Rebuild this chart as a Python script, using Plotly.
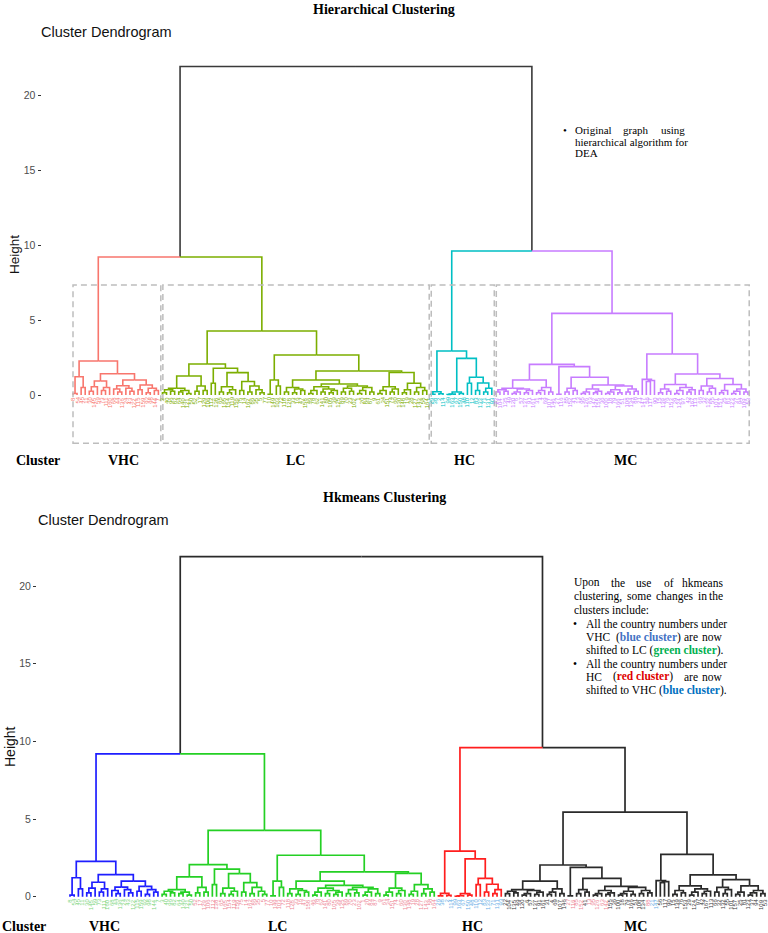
import plotly.graph_objects as go

W, H = 768, 933
SERIF = "Liberation Serif"
SANS = "Liberation Sans"

# ---------------- data: cluster sub-trees (Newick-like, x = leaf, :h = merge height)
vhc_L = "((x,x):0.1,(x,x):0.5):1.22"
vhc_R1 = "(((x,x):0.25,x):0.55,((x,x):0.3,x):0.5):0.93"
vhc_R2 = "(((x,(x,x):0.2):0.4,(x,(x,x):0.25):0.45):0.62,((x,x):0.35,((x,x):0.15,(x,x):0.3):0.45):0.67):1.0"
vhc_tree = f"({vhc_L},({vhc_R1},{vhc_R2}):1.42):2.27"

lc_a = "(((x,x):0.15,(x,x):0.25):0.35,((x,x):0.2,(x,x):0.1):0.3):0.45"
lc_b = "((x,x):0.25,(x,x):0.3):0.6"
lc_c = "(x,x):0.78"
lc_d1 = "((x,x):0.2,((x,x):0.15,x):0.35):0.55"
lc_d2 = "((x,x):0.3,((x,x):0.2,(x,(x,x):0.15):0.35):0.6):0.9"
lc_L = f"(({lc_a},{lc_b}):1.27,({lc_c},({lc_d1},{lc_d2}):1.49):1.78):2.07"
lc_e = "((x,x):0.05,(x,x):0.6):1.0"
lc_A1 = "((x,x):0.2,((x,x):0.15,(x,x):0.3):0.4):0.5"
lc_A2a = "(((x,x):0.1,x):0.3,((x,x):0.2,((x,x):0.15,x):0.3):0.4):0.55"
lc_A2b = "(((x,x):0.2,(x,x):0.25):0.45,(((x,x):0.1,x):0.3,(x,x):0.2):0.5):0.6"
lc_B1 = "(((x,x):0.1,x):0.3,((x,x):0.2,x):0.4):0.55"
lc_B2 = "(((x,x):0.15,x):0.35,((x,x):0.2,(x,x):0.3):0.5):0.78"
lc_R = f"({lc_e},(({lc_A1},({lc_A2a},{lc_A2b}):0.73):1.0,({lc_B1},{lc_B2}):1.5):1.6):2.67"
lc_tree = f"({lc_L},{lc_R}):4.27"

hc_X = "((x,x):0.05,(x,x):0.08):0.22"
hc_Y1 = "(((x,x):0.03,x):0.06,(x,x):0.1):0.2"
hc_Y2 = "((x,x):0.78,((x,x):0.3,((x,x):0.2,x):0.45):0.8):1.18"
hc_tree = f"({hc_X},({hc_Y1},{hc_Y2}):2.44):2.93"

mc_M1a1 = "(((x,x):0.2,(x,x):0.25):0.35,(((x,x):0.1,x):0.2,((x,x):0.15,x):0.3):0.4):0.45"
mc_M1a2 = "(((x,x):0.15,x):0.3,(x,x):0.2):0.5"
mc_M1b1 = "(x,x):0.05"
mc_M1b2a = "((x,x):0.2,(x,x):0.3):0.45"
mc_M1b2b1 = "(((x,x):0.1,x):0.2,((x,x):0.15,x):0.25):0.4"
mc_M1b2b2 = "((((x,x):0.1,x):0.2,(x,x):0.15):0.35,((x,x):0.2,(x,x):0.25):0.4):0.6"
mc_M1 = f"(({mc_M1a1},{mc_M1a2}):1.0,({mc_M1b1},({mc_M1b2a},({mc_M1b2b1},{mc_M1b2b2}):0.67):1.18):1.89):2.04"
mc_M2a = "(x,((x,x):0.9,x):0.97):1.04"
mc_M2b1 = "(((x,x):0.15,(x,x):0.25):0.4,(((x,x):0.1,x):0.3,((x,x):0.2,x):0.35):0.5):0.7"
mc_M2b2a = "((x,x):0.3,((x,x):0.2,x):0.45):0.6"
mc_M2b2b = "(((x,x):0.15,x):0.3,(((x,x):0.1,x):0.25,(x,x):0.2):0.4):0.7"
mc_M2 = f"({mc_M2a},({mc_M2b1},({mc_M2b2a},{mc_M2b2b}):1.1):1.4):2.73"
mc_tree = f"({mc_M1},{mc_M2}):5.44"

cluster_trees = [vhc_tree, lc_tree, hc_tree, mc_tree]
cluster_names = ["VHC", "LC", "HC", "MC"]
join_left_height = 9.2     # VHC + LC
join_right_height = 9.6    # HC + MC
root_height = 21.9

vhc_labels = [8, 54, 45, 11, 30, 145, 59, 73, 111, 160, 68, 44, 136, 24, 43, 122, 115, 159, 92, 98, 144, 7]
lc_labels = [3, 40, 96, 82, 64, 140, 121, 50, 52, 17, 129, 106, 112, 138, 65, 165, 154, 119, 156, 75,
             14, 162, 86, 35, 5, 77, 10, 149, 103, 72, 118, 128, 33, 16, 47, 158, 46, 78, 62, 141,
             80, 105, 39, 125, 89, 70, 23, 102, 1, 20, 84, 87, 9, 61, 34, 151, 74, 60, 130, 148,
             19, 28, 127, 143, 58, 164]
hc_labels = [26, 38, 2, 114, 99, 163, 67, 150, 48, 110, 12, 83, 133, 71, 131, 93]
mc_labels = [22, 104, 135, 49, 120, 6, 57, 137, 91, 161, 31, 4, 69, 107, 146, 27, 116, 85, 152, 41,
             13, 95, 126, 63, 142, 155, 36, 100, 18, 79, 166, 51, 108, 134, 88, 21, 147, 56, 117, 90,
             15, 139, 76, 153, 29, 124, 97, 42, 167, 113, 66, 32, 132, 55, 101, 157, 25, 81, 123, 37,
             94, 109, 53]
leaf_labels = vhc_labels + lc_labels + hc_labels + mc_labels

top_colors = ["#F8766D", "#7CAE00", "#00BFC4", "#C77CFF"]
top_root_color = "#3A3A3A"
bottom_colors = ["#1E1EFF", "#24D024", "#FF1E1E", "#2A2A2A"]
bottom_root_color = "#2A2A2A"

bottom_label_runs = [("LC", 30), ("VHC", 58), ("HC", 16), ("MC", 15), ("VHC", 4), ("MC", 1),
                     ("VHC", 5), ("MC", 9), ("VHC", 1), ("HC", 2), ("MC", 26)]
bottom_label_palette = {"LC": "#7ED67E", "VHC": "#EE8796", "HC": "#66AEE6", "MC": "#3A3A3A"}

tick_vals = [0, 5, 10, 15, 20]


# ---------------- tree building
def parse(s):
    pos = [0]

    def node():
        if s[pos[0]] == 'x':
            pos[0] += 1
            return {}
        pos[0] += 1  # (
        left = node()
        pos[0] += 1  # ,
        right = node()
        pos[0] += 2  # ):
        j = pos[0]
        while pos[0] < len(s) and (s[pos[0]].isdigit() or s[pos[0]] == '.'):
            pos[0] += 1
        return {'h': float(s[j:pos[0]]), 'kids': [left, right]}
    return node()


def tag(n, c):
    n['c'] = c
    for k in n.get('kids', []):
        tag(k, c)


subtrees = []
for i, t in enumerate(cluster_trees):
    tr = parse(t)
    tag(tr, i)
    subtrees.append(tr)

root = {'h': root_height, 'c': None, 'kids': [
    {'h': join_left_height, 'c': None, 'kids': [subtrees[0], subtrees[1]]},
    {'h': join_right_height, 'c': None, 'kids': [subtrees[2], subtrees[3]]}]}

leaves = []


def place(n):
    if 'kids' not in n:
        n['x'] = len(leaves)
        n['h'] = 0.0
        leaves.append(n)
        return
    for k in n['kids']:
        place(k)
    n['x'] = sum(k['x'] for k in n['kids']) / 2.0


place(root)
NLEAF = len(leaves)

segs = []


def collect(n):
    for k in n.get('kids', []):
        segs.append((k['c'], [k['x'], k['x'], n['x']], [k['h'], n['h'], n['h']]))
        collect(k)


collect(root)

fig = go.Figure()


def add_tree(colors, rootc, xa, ya, width):
    groups = {}
    for c, xs, ys in segs:
        col = rootc if c is None else colors[c]
        g = groups.setdefault(col, ([], []))
        g[0].extend(xs + [None])
        g[1].extend(ys + [None])
    for col, (xs, ys) in groups.items():
        fig.add_trace(go.Scatter(x=xs, y=ys, mode="lines", xaxis=xa, yaxis=ya,
                                 line=dict(color=col, width=width), hoverinfo="skip",
                                 showlegend=False))


add_tree(top_colors, top_root_color, "x", "y", 1.6)
add_tree(bottom_colors, bottom_root_color, "x2", "y2", 1.7)

annotations = []
shapes = []

# leaf labels
bottom_label_colors = []
for name, n in bottom_label_runs:
    bottom_label_colors += [bottom_label_palette[name]] * n

for i, lf in enumerate(leaves):
    lab = str(leaf_labels[i]) if i < len(leaf_labels) else ""
    annotations.append(dict(xref="x", yref="y", x=lf['x'], y=0, yshift=-1, text=lab,
                            textangle=-90, showarrow=False, xanchor="center", yanchor="top",
                            font=dict(family=SANS, size=6, color=top_colors[lf['c']]),
                            borderpad=0))
    annotations.append(dict(xref="x2", yref="y2", x=lf['x'], y=0, yshift=-1, text=lab,
                            textangle=-90, showarrow=False, xanchor="center", yanchor="top",
                            font=dict(family=SANS, size=6, color=bottom_label_colors[i]),
                            borderpad=0))

# dashed cluster rectangles (top)
start = 0
for ci, tr in enumerate(subtrees):
    cnt = sum(1 for lf in leaves if lf['c'] == ci)
    a, b = start, start + cnt - 1
    x0 = a + (0.1 if ci > 0 else 0.0)
    x1 = b + (0.6 if ci < len(subtrees) - 1 else 0.3)
    shapes.append(dict(type="rect", xref="x", yref="y", x0=x0, x1=x1, y0=-3.22, y1=7.33,
                       line=dict(color="#BDBDBD", width=1.5, dash="6px,4px"),
                       fillcolor="rgba(0,0,0,0)", layer="above"))
    start += cnt


def pann(px, py, text, size, color="#000000", family=SERIF, xanchor="left", angle=0):
    annotations.append(dict(xref="paper", yref="paper", x=px / W, y=1 - py / H, text=text,
                            showarrow=False, xanchor=xanchor, yanchor="middle", textangle=angle,
                            font=dict(family=family, size=size, color=color), borderpad=0))


# titles
pann(384, 10, "<b>Hierarchical Clustering</b>", 14, xanchor="center")
pann(384, 497, "<b>Hkmeans Clustering</b>", 14, xanchor="center")
pann(40, 32, "Cluster Dendrogram", 14.5, "#111111", SANS)
pann(37, 520, "Cluster Dendrogram", 14.5, "#111111", SANS)
pann(15, 255, "Height", 13.5, "#111111", SANS, "center", -90)
pann(10, 747, "Height", 14, "#111111", SANS, "center", -90)

# cluster row labels
top_cluster_x = [123.8, 295, 464, 625]
bot_cluster_x = [104, 277.7, 472.5, 635]
pann(37.7, 460, "<b>Cluster</b>", 14, xanchor="center")
pann(24, 926, "<b>Cluster</b>", 14, xanchor="center")
for nm, tx, bx in zip(cluster_names, top_cluster_x, bot_cluster_x):
    pann(tx, 460, f"<b>{nm}</b>", 14, xanchor="center")
    pann(bx, 926, f"<b>{nm}</b>", 14, xanchor="center")

# top-right note
fs1 = 11
pann(565, 130, "•", fs1, xanchor="center")
pann(574.3, 130, "Original", fs1)
pann(621.7, 130, "graph", fs1)
pann(685.7, 130, "using", fs1, xanchor="right")
pann(574.3, 141.7, "hierarchical algorithm for", fs1)
pann(574.3, 153.3, "DEA", fs1)

# bottom-right note
fs2 = 11.5
c_blue1, c_green, c_red, c_blue2 = "#4472C4", "#00B050", "#E00000", "#0070C0"
pann(573.3, 582.7, "Upon", fs2)
pann(610, 582.7, "the", fs2)
pann(635, 582.7, "use", fs2)
pann(663.3, 582.7, "of", fs2)
pann(724, 582.7, "hkmeans", fs2, xanchor="right")
pann(573.3, 596, "clustering,", fs2)
pann(626, 596, "some", fs2)
pann(655, 596, "changes", fs2)
pann(696.7, 596, "in", fs2)
pann(724, 596, "the", fs2, xanchor="right")
pann(573.3, 610, "clusters include:", fs2)
pann(575, 624.3, "•", fs2, xanchor="center")
pann(585, 624.3, "All the country numbers under", fs2)
pann(585, 637.3, "VHC", fs2)
pann(615, 637.3, f"(<span style='color:{c_blue1}'><b>blue cluster</b></span>)", fs2)
pann(683.3, 637.3, "are", fs2)
pann(724, 637.3, "now", fs2, xanchor="right")
pann(585, 650, f"shifted to LC (<span style='color:{c_green}'><b>green cluster</b></span>).", fs2)
pann(575, 664, "•", fs2, xanchor="center")
pann(585, 664, "All the country numbers under", fs2)
pann(585, 676.7, "HC", fs2)
pann(611.7, 676.7, f"(<span style='color:{c_red}'><b>red cluster</b></span>)", fs2)
pann(682.7, 676.7, "are", fs2)
pann(724, 676.7, "now", fs2, xanchor="right")
pann(585, 690, f"shifted to VHC (<span style='color:{c_blue2}'><b>blue cluster</b></span>).", fs2)

# ---------------- axes (pixel-calibrated)
xr = [-0.5, NLEAF - 0.5]
top_x_px = (73.0, 748.0)
bot_x_px = (70.0, 765.0)


def xdom(p0, p1):
    s = (p1 - p0) / (NLEAF - 1)
    return [(p0 - 0.5 * s) / W, (p1 + 0.5 * s) / W]


top_range = [-3.6, 22.6]
top_zero_px, top_scale = 395.0, 15.0
bot_range = [-1.3, 22.6]
bot_zero_px, bot_scale = 896.7, 15.53


def ydom(r, zero_px, scale):
    top_px = zero_px - scale * r[1]
    bot_px = zero_px - scale * r[0]
    return [1 - bot_px / H, 1 - top_px / H]


yaxis_common = dict(tickvals=tick_vals, ticks="outside", ticklen=3, tickwidth=1,
                    tickcolor="#333333", showgrid=False, zeroline=False, showline=False,
                    tickfont=dict(family=SANS, size=10.5, color="#4D4D4D"), anchor="free")

fig.update_layout(
    width=W, height=H, margin=dict(l=0, r=0, t=0, b=0),
    paper_bgcolor="white", plot_bgcolor="white", hovermode=False,
    xaxis=dict(domain=xdom(*top_x_px), range=xr, visible=False, anchor="y"),
    yaxis=dict(domain=ydom(top_range, top_zero_px, top_scale), range=top_range,
               position=40.5 / W, **yaxis_common),
    xaxis2=dict(domain=xdom(*bot_x_px), range=xr, visible=False, anchor="y2"),
    yaxis2=dict(domain=ydom(bot_range, bot_zero_px, bot_scale), range=bot_range,
                position=36 / W, **yaxis_common),
    annotations=annotations, shapes=shapes,
)

fig.write_html("out.html")
